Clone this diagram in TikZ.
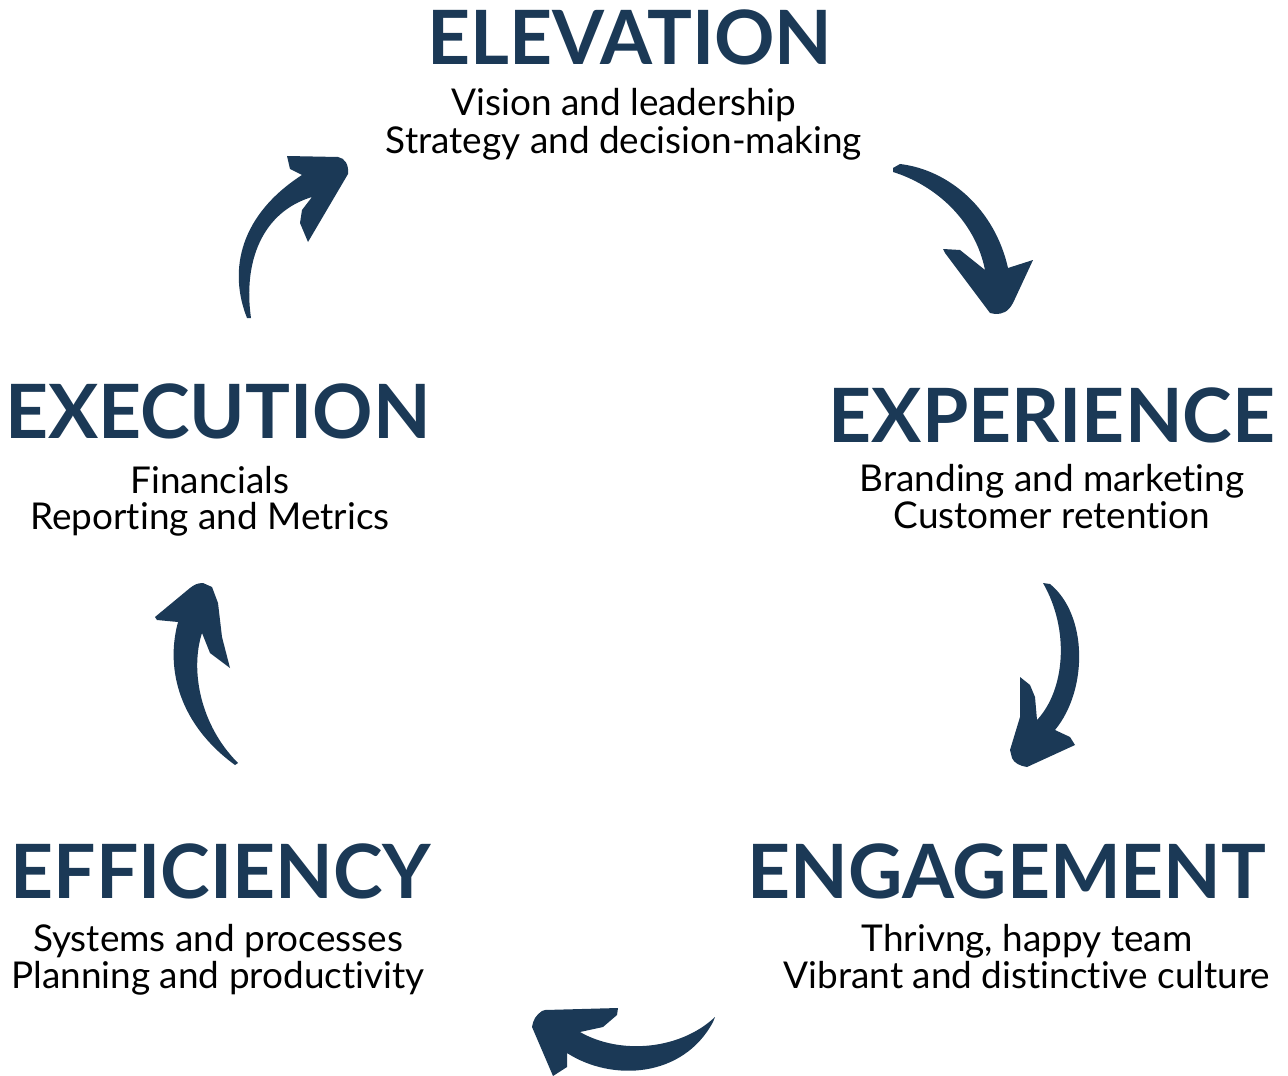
\documentclass[tikz,border=0pt]{standalone}
\usepackage{fontspec}
\setmainfont{Lato}[Ligatures=NoCommon, Contextuals=NoAlternate]
\definecolor{navy}{RGB}{27,57,86}
\tikzset{
  heading/.style={font=\fontsize{21.3}{21.3}\selectfont\bfseries, text=navy, inner sep=0pt, anchor=base},
  subline/.style={font=\fontsize{10.5}{10.5}\selectfont, text=black, inner sep=0pt, anchor=base},
  brush/.style={fill=navy, draw=none}
}
\begin{document}
\begin{tikzpicture}[x=0.01cm, y=-0.01cm]
  \useasboundingbox (0,0) rectangle (1288,1076);
  \def\Xl{218};  % left column
  \def\Xr{1052}; % right column
  \def\Xt{630};  % top

  % elevation
  \node[heading] (elev) at (\Xt, 65) {ELEVATION};
  \node[subline] (elevA) at (624, 116) {Vision and leadership};
  \node[subline] (elevB) at (624, 153) {Strategy and decision-making};

  % experience
  \node[heading] (expe) at (\Xr, 442) {EXPERIENCE};
  \node[subline] (expeA) at (\Xr, 491) {Branding and marketing};
  \node[subline] (expeB) at (\Xr, 528) {Customer retention};

  % engagement
  \node[heading] (enga) at (1007, 898) {ENGAGEMENT};
  \node[subline] (engaA) at (1027, 951) {Thrivng, happy team};
  \node[subline] (engaB) at (1027, 988) {Vibrant and distinctive culture};

  % efficiency
  \node[heading] (effi) at (221, 898) {EFFICIENCY};
  \node[subline] (effiA) at (\Xl, 951) {Systems and processes};
  \node[subline] (effiB) at (\Xl, 988) {Planning and productivity};

  % execution
  \node[heading] (exec) at (\Xl, 438) {EXECUTION};
  \node[subline] (execA) at (210, 493) {Financials};
  \node[subline] (execB) at (210, 529) {Reporting and Metrics};

  % brush arrows, clockwise from the top left
  \fill[brush] (247,318) .. controls (228,270) and (240,215) .. (302,175)
    -- (290,169) -- (287,156) -- (338,157) .. controls (345,158) and (349,165) .. (348,174)
    -- (308,242) -- (300,223) -- (302,210) -- (312,197)
    .. controls (262,212) and (243,262) .. (251,318) -- cycle;
  \fill[brush] (893,168) -- (900,164) .. controls (950,170) and (995,210) .. (1008,268)
    -- (1033,260) -- (1013,303) .. controls (1008,312) and (1003,314) .. (995,314) -- (990,313)
    -- (945,253) -- (943,249) -- (960,250) -- (985,270)
    .. controls (975,220) and (935,185) .. (893,172) -- cycle;
  \fill[brush] (1043,583) -- (1050,584) .. controls (1088,615) and (1088,690) .. (1055,730)
    -- (1070,737) -- (1075,745) -- (1027,767) .. controls (1020,766) and (1014,763) .. (1012,758)
    -- (1010,750) -- (1020,717) -- (1020,677) -- (1030,685) -- (1035,697) -- (1037,720)
    .. controls (1065,690) and (1070,630) .. (1043,583) -- cycle;
  \fill[brush] (715,1017) -- (713,1022) .. controls (683,1078) and (612,1082) .. (567,1053)
    -- (567,1067) -- (553,1076) -- (532,1027) .. controls (533,1020) and (536,1015) .. (542,1011)
    -- (545,1010) -- (618,1008) -- (617,1015) -- (603,1027) -- (580,1032)
    .. controls (620,1055) and (680,1050) .. (715,1017) -- cycle;
  \fill[brush] (238,763) -- (235,765) .. controls (180,725) and (165,670) .. (178,622)
    -- (157,620) -- (155,617) -- (190,588) .. controls (194,585) and (197,583) .. (203,583)
    -- (212,587) -- (218,603) -- (222,637) -- (230,668) -- (210,653) -- (202,633)
    .. controls (190,670) and (200,725) .. (238,763) -- cycle;
\end{tikzpicture}
\end{document}
